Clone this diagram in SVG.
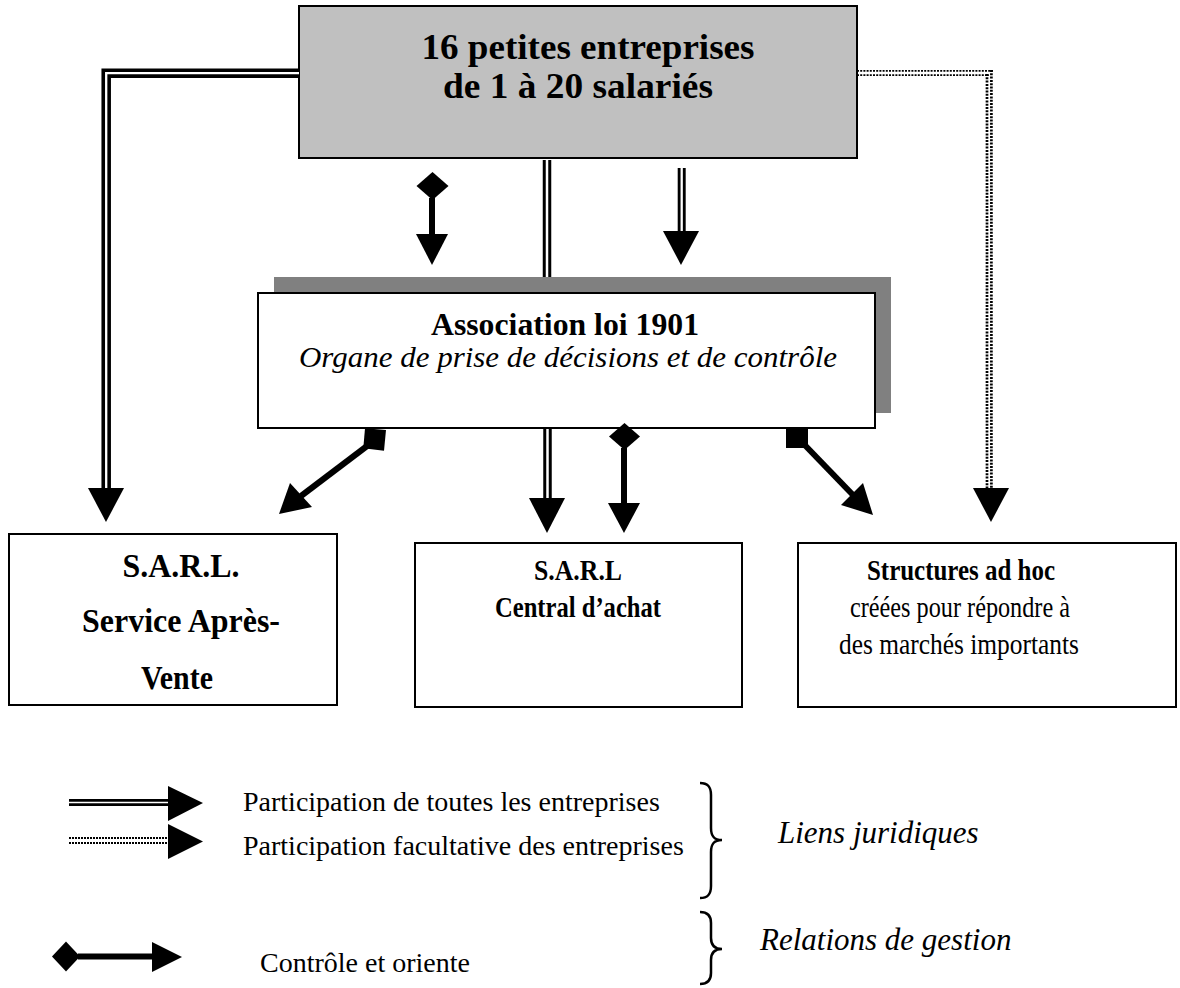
<svg xmlns="http://www.w3.org/2000/svg" width="1180" height="988" viewBox="0 0 1180 988">
<style>
.box{fill:#fff;stroke:#000;stroke-width:2}
.gray{fill:#c0c0c0;stroke:#000;stroke-width:2}
.shadow{fill:#808080}
.t{font-family:"Liberation Serif","Times New Roman",serif;fill:#000}
.b{font-weight:bold}
.i{font-style:italic}
.c{text-anchor:middle}
.dblo{fill:none;stroke:#000;stroke-linejoin:miter}
.dbli{fill:none;stroke:#fff;stroke-linejoin:miter}
.solid{fill:none;stroke:#000;stroke-width:6}
.dot{fill:none;stroke:#000}
.head{fill:#000}
.brace{fill:none;stroke:#000;stroke-width:2.5}
</style>
<rect width="1180" height="988" fill="#fff"/>

<g id="node-entreprises">
<rect class="gray" x="299" y="6" width="558" height="152"/>
<text class="t b c" x="588" y="59" font-size="36" textLength="333" lengthAdjust="spacingAndGlyphs">16 petites entreprises</text>
<text class="t b c" x="578" y="98" font-size="36" textLength="270" lengthAdjust="spacingAndGlyphs">de 1 à 20 salariés</text>
</g>

<g id="node-association">
<rect class="shadow" x="274" y="277" width="617" height="136"/>
<rect class="box" x="258" y="293" width="617" height="135"/>
<text class="t b c" x="565" y="335" font-size="31" textLength="268" lengthAdjust="spacingAndGlyphs">Association loi 1901</text>
<text class="t i c" x="568" y="367" font-size="30" textLength="538" lengthAdjust="spacingAndGlyphs">Organe de prise de décisions et de contrôle</text>
</g>

<g id="node-sav">
<rect class="box" x="9" y="534" width="328" height="171"/>
<text class="t b c" x="181" y="577" font-size="34" textLength="117" lengthAdjust="spacingAndGlyphs">S.A.R.L.</text>
<text class="t b c" x="181" y="632" font-size="34" textLength="198" lengthAdjust="spacingAndGlyphs">Service Après-</text>
<text class="t b c" x="177" y="689" font-size="34" textLength="72" lengthAdjust="spacingAndGlyphs">Vente</text>
</g>

<g id="node-central">
<rect class="box" x="415" y="543" width="327" height="164"/>
<text class="t b c" x="578" y="580" font-size="29" textLength="88" lengthAdjust="spacingAndGlyphs">S.A.R.L</text>
<text class="t b c" x="578" y="617" font-size="29" textLength="166" lengthAdjust="spacingAndGlyphs">Central d’achat</text>
</g>

<g id="node-structures">
<rect class="box" x="798" y="543" width="378" height="164"/>
<text class="t b c" x="961" y="580" font-size="29" textLength="188" lengthAdjust="spacingAndGlyphs">Structures ad hoc</text>
<text class="t c" x="960" y="617" font-size="29" textLength="220" lengthAdjust="spacingAndGlyphs">créées pour répondre à</text>
<text class="t c" x="959" y="654" font-size="29" textLength="240" lengthAdjust="spacingAndGlyphs">des marchés importants</text>
</g>

<g id="connectors">
<path class="dblo" stroke-width="9.5" d="M299,73.2 H106.2 V490"/>
<path class="dbli" stroke-width="2.3" d="M299,73.2 H106.2 V490"/>
<polygon class="head" points="88,488 124,488 106,522"/>

<path class="dot" stroke-width="1.8" stroke-dasharray="2 1.2" d="M857,70.8 H993"/>
<path class="dot" stroke-width="1.8" stroke-dasharray="2 1.2" d="M857,75.2 H989"/>
<path class="dot" stroke-width="2.7" stroke-dasharray="2 1.3" d="M987,74 V489"/>
<path class="dot" stroke-width="2.7" stroke-dasharray="2 1.3" d="M991.4,70 V489"/>
<polygon class="head" points="973,488 1009,488 991,522"/>

<polygon class="head" points="432.5,172 448.5,186 432.5,200 416.5,186"/>
<path class="solid" stroke-width="6.5" d="M432,198 V236"/>
<polygon class="head" points="416,234 448,234 432,265"/>

<path class="dblo" stroke-width="8.5" d="M547,160 V277"/>
<path class="dbli" stroke-width="2.5" d="M547,160 V277"/>

<path class="dblo" stroke-width="8" d="M681.7,168 V233"/>
<path class="dbli" stroke-width="2.3" d="M681.7,168 V233"/>
<polygon class="head" points="663,231 699,231 681,265"/>

<polygon class="head" points="365,428.3 386,430 384,450.7 363.3,448.3"/>
<path class="solid" d="M375,440 L301,496"/>
<polygon class="head" points="290,483 312,507 279,514"/>

<path class="dblo" stroke-width="8.5" d="M547.5,429 V500"/>
<path class="dbli" stroke-width="2.5" d="M547.5,429 V500"/>
<polygon class="head" points="529,498 565,498 547,533"/>

<polygon class="head" points="624.5,423 640,436.5 624.5,450 609,436.5"/>
<path class="solid" stroke-width="7" d="M624,448 V505"/>
<polygon class="head" points="608,503 640,503 624,533"/>

<rect class="head" x="786" y="427" width="22" height="21"/>
<path class="solid" d="M797,437 L853,495"/>
<polygon class="head" points="841,505 863,483 873,515"/>
</g>

<g id="legend">
<path class="dblo" stroke-width="7" d="M69,802.5 H170"/>
<path class="dbli" stroke-width="1.6" d="M69,802.5 H170"/>
<polygon class="head" points="168,786 168,821 203,803"/>
<text class="t" x="243" y="811" font-size="28">Participation de toutes les entreprises</text>

<path class="dot" stroke-width="2" stroke-dasharray="2 1" d="M69,838 H170"/>
<path class="dot" stroke-width="2" stroke-dasharray="2 1" d="M69,843 H170"/>
<polygon class="head" points="168,824 168,859 203,841.5"/>
<text class="t" x="243" y="855" font-size="28">Participation facultative des entreprises</text>

<polygon class="head" points="52,956.5 66,941.5 80,956.5 66,971.5"/>
<path class="solid" stroke-width="6.5" d="M78,956.5 H154"/>
<polygon class="head" points="152,942 152,972 182,957"/>
<text class="t" x="260" y="972" font-size="28">Contrôle et oriente</text>

<path class="brace" d="M700,783 C708,783 711,787 711,795 V828 C711,836 714,840 722,840 C714,840 711,844 711,852 V886 C711,894 708,898 700,898"/>
<text class="t i" x="778" y="843" font-size="31">Liens juridiques</text>

<path class="brace" d="M700,912 C708,912 711,916 711,923 V938 C711,945 714,949 722,949 C714,949 711,953 711,960 V973 C711,980 708,984 700,984"/>
<text class="t i" x="760" y="950" font-size="31">Relations de gestion</text>
</g>
</svg>
